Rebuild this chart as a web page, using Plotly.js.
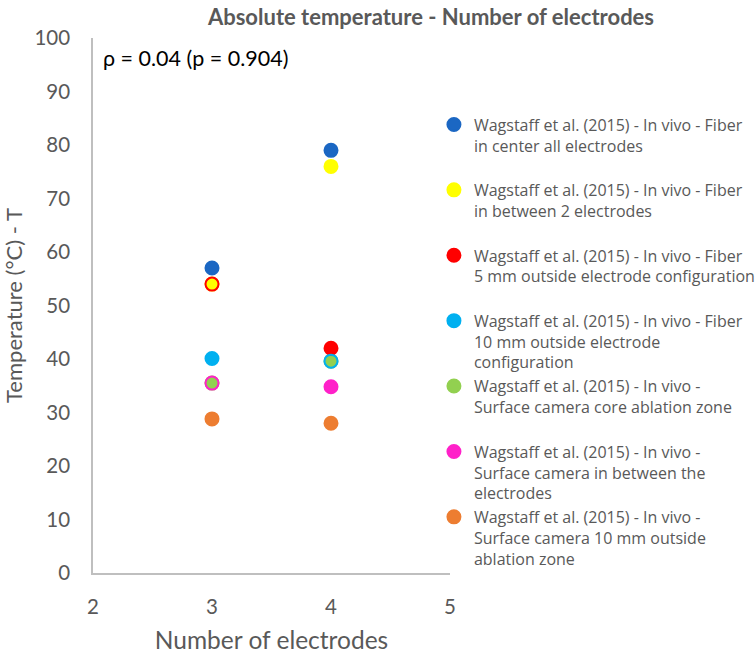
<!DOCTYPE html>
<html>
<head>
<meta charset="utf-8">
<script src="https://cdn.plot.ly/plotly-3.0.1.min.js"></script>
<style>html,body{margin:0;padding:0;background:#fff;}#chart{width:756px;height:654px;}</style>
</head>
<body>
<div id="chart"></div>
<script>
// Data (number of electrodes, temperature °C)
const seriesNames = [
  "Wagstaff et al. (2015) - In vivo - Fiber<br>in center all electrodes<br> ",
  "Wagstaff et al. (2015) - In vivo - Fiber<br>in between 2 electrodes<br> ",
  "Wagstaff et al. (2015) - In vivo - Fiber<br>5 mm outside electrode configuration<br> ",
  "Wagstaff et al. (2015) - In vivo - Fiber<br>10 mm outside electrode<br>configuration",
  "Wagstaff et al. (2015) - In vivo -<br>Surface camera core ablation zone<br> ",
  "Wagstaff et al. (2015) - In vivo -<br>Surface camera in between the<br>electrodes",
  "Wagstaff et al. (2015) - In vivo -<br>Surface camera 10 mm outside<br>ablation zone"
];
const fiberCenterX = [3, 4];
const fiberCenterT = [57, 79];
const fiberBetweenX = [3, 4];
const fiberBetweenT = [54, 76];
const fiber5mmX = [4, 3];
const fiber5mmT = [42, 54];
const fiber10mmX = [3, 4];
const fiber10mmT = [40.1, 39.6];
const camCoreX = [3, 4];
const camCoreT = [35.5, 39.6];
const camBetweenX = [4, 3];
const camBetweenT = [34.8, 35.5];
const cam10mmX = [3, 4];
const cam10mmT = [28.8, 28];
const xTicks = [2, 3, 4, 5];
const yTicks = [0, 10, 20, 30, 40, 50, 60, 70, 80, 90, 100];

const colors = ["#1B67C3", "#FFFF00", "#FF0000", "#00B0F0", "#92D050", "#FF21C9", "#ED7D31"];
const FONT = "Lato, 'Open Sans', sans-serif";
const LFONT = "'Open Sans', Lato, sans-serif";

function tr(i, x, y, symbols) {
  return {
    type: "scatter", mode: "markers", x: x, y: y, name: seriesNames[i],
    legendrank: i + 1,
    marker: { color: colors[i], size: 13, symbol: symbols || "circle",
              line: { color: colors[i], width: 2 } },
    hoverinfo: "x+y"
  };
}

// drawing order chosen so that overlapping rings sit on top
const data = [
  tr(0, fiberCenterX, fiberCenterT),
  tr(1, fiberBetweenX, fiberBetweenT),
  tr(4, camCoreX, camCoreT),
  tr(2, fiber5mmX, fiber5mmT, ["circle", "circle-open"]),
  tr(3, fiber10mmX, fiber10mmT, ["circle", "circle-open"]),
  tr(5, camBetweenX, camBetweenT, ["circle", "circle-open"]),
  tr(6, cam10mmX, cam10mmT)
];

const layout = {
  width: 756, height: 654,
  paper_bgcolor: "#fff", plot_bgcolor: "#fff",
  margin: { l: 93, r: 306, t: 38, b: 81, autoexpand: false },
  font: { family: FONT, color: "#595959" },
  title: {
    text: "<b>Absolute temperature - Number of electrodes</b>",
    font: { family: FONT, size: 22, color: "#595959" },
    x: 431 / 756, xanchor: "center", xref: "container",
    y: 1 - 17 / 654, yanchor: "middle", yref: "container"
  },
  xaxis: {
    range: [2, 5], tickvals: xTicks, ticktext: xTicks.map(String),
    showgrid: false, zeroline: false, showline: true, linecolor: "#BFBFBF", linewidth: 1.5,
    ticks: "", ticklabelstandoff: 15,
    tickfont: { family: FONT, size: 20.5, color: "#595959" },
    title: { text: "Number of electrodes", font: { family: FONT, size: 24.5, color: "#595959" }, standoff: 24 }
  },
  yaxis: {
    range: [0, 100], tickvals: yTicks, ticktext: yTicks.map(String),
    showgrid: false, zeroline: false, showline: true, linecolor: "#BFBFBF", linewidth: 1.5,
    ticks: "", ticklabelstandoff: 17,
    tickfont: { family: FONT, size: 20.5, color: "#595959" },
    title: { text: "Temperature (°C) - T", font: { family: FONT, size: 22, color: "#595959" }, standoff: 12 }
  },
  showlegend: true,
  legend: {
    x: 0.955, xanchor: "left", y: 0.87, yanchor: "top",
    valign: "top", traceorder: "normal",
    font: { family: LFONT, size: 16, color: "#595959" },
    bgcolor: "rgba(0,0,0,0)", borderwidth: 0
  },
  annotations: [{
    text: "ρ = 0.04 (p = 0.904)", xref: "paper", yref: "paper",
    x: 8 / 357, xanchor: "left",
    y: 1 - (58 - 38) / 535, yanchor: "middle",
    showarrow: false, font: { family: FONT, size: 21.5, color: "#000" }
  }]
};

Plotly.newPlot("chart", data, layout, { displayModeBar: false });
</script>
</body>
</html>
